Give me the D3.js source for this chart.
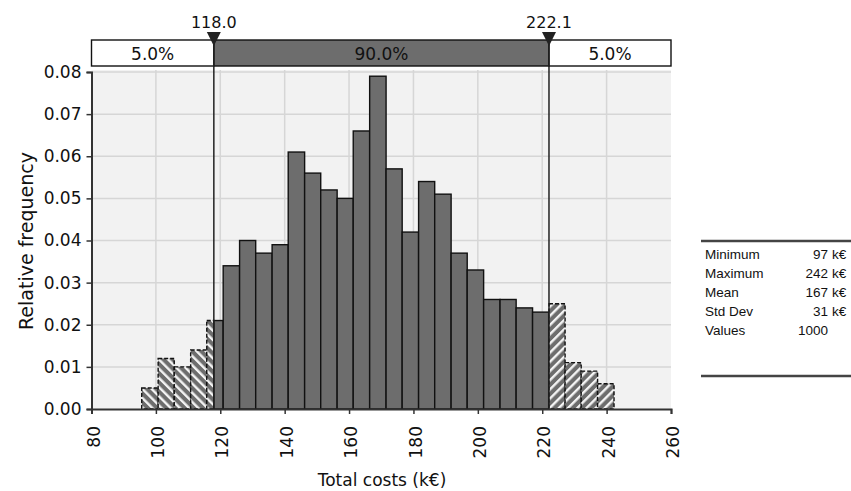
<!DOCTYPE html>
<html>
<head>
<meta charset="utf-8">
<script src="https://cdn.jsdelivr.net/npm/d3@7"></script>
<style>
  body { margin: 0; background: #fff; }
  svg { display: block; }
</style>
</head>
<body>
<svg width="851" height="491"></svg>
<script>
// histogram bins (lower edges + final upper edge)
var binEdges = [95.6, 100.7, 105.7, 110.8, 115.8, 120.9, 126.0, 131.0, 136.1, 141.1,
                146.2, 151.2, 156.3, 161.3, 166.4, 171.5, 176.5, 181.6, 186.6, 191.7,
                196.7, 201.8, 206.9, 211.9, 217.0, 222.0, 227.1, 232.1, 237.2, 242.3];
var relFreq = [0.005, 0.012, 0.010, 0.014, 0.021, 0.034, 0.040, 0.037, 0.039, 0.061,
               0.056, 0.052, 0.050, 0.066, 0.079, 0.057, 0.042, 0.054, 0.051, 0.037,
               0.033, 0.026, 0.026, 0.024, 0.023, 0.025, 0.011, 0.009, 0.006];

var lowerCut = 118.0, upperCut = 222.1;
var bandLabels = ["5.0%", "90.0%", "5.0%"];

var xTicks = [80, 100, 120, 140, 160, 180, 200, 220, 240, 260];
var yTicks = [0, 0.01, 0.02, 0.03, 0.04, 0.05, 0.06, 0.07, 0.08];

var statNames = ["Minimum", "Maximum", "Mean", "Std Dev", "Values"];
var statValues = ["97", "242", "167", "31", "1000"];
var statUnits = ["k€", "k€", "k€", "k€", ""];

var svg = d3.select("svg");
var font = "'DejaVu Sans', Verdana, sans-serif";
var barFill = "#6d6d6d";

var x = d3.scaleLinear().domain([80, 260]).range([91.5, 671]);
var y = d3.scaleLinear().domain([0, 0.08]).range([409, 72]);

// hatch patterns (left tail "\\\", right tail "///")
var defs = svg.append("defs");
[["hatchL", -45], ["hatchR", 45]].forEach(function(p) {
  var pat = defs.append("pattern")
      .attr("id", p[0])
      .attr("patternUnits", "userSpaceOnUse")
      .attr("width", 6.5).attr("height", 6.5)
      .attr("patternTransform", "rotate(" + p[1] + ")");
  pat.append("rect").attr("width", 6.5).attr("height", 6.5).attr("fill", barFill);
  pat.append("rect").attr("x", 0).attr("width", 2.4).attr("height", 6.5).attr("fill", "#f4f4f4");
});

// plot background + grid
svg.append("rect")
    .attr("x", x(80)).attr("y", 70)
    .attr("width", x(260) - x(80)).attr("height", y(0) - 70)
    .attr("fill", "#f2f2f2");

svg.append("g").selectAll("line")
    .data(xTicks.slice(1, -1))
  .enter().append("line")
    .attr("x1", d => x(d)).attr("x2", d => x(d))
    .attr("y1", 70).attr("y2", y(0))
    .attr("stroke", "#d6d6d6").attr("stroke-width", 1.5);

svg.append("g").selectAll("line")
    .data(yTicks.slice(1))
  .enter().append("line")
    .attr("x1", x(80)).attr("x2", x(260))
    .attr("y1", d => y(d)).attr("y2", d => y(d))
    .attr("stroke", "#d6d6d6").attr("stroke-width", 1.5);

// bars, split into tail (hatched) and body (solid) parts
var bins = relFreq.map(function(v, i) { return { x0: binEdges[i], x1: binEdges[i + 1], v: v }; });
var parts = [];
bins.forEach(function(b) {
  var cuts = [b.x0, b.x1, lowerCut, upperCut].filter(c => c >= b.x0 && c <= b.x1).sort(d3.ascending);
  cuts = Array.from(new Set(cuts));
  for (var k = 0; k < cuts.length - 1; k++) {
    var a = cuts[k], c = cuts[k + 1];
    if (c - a < 0.2) continue;
    var mid = (a + c) / 2;
    var kind = mid < lowerCut ? "L" : (mid > upperCut ? "R" : "M");
    parts.push({ x0: a, x1: c, v: b.v, kind: kind });
  }
});

svg.append("g").selectAll("rect")
    .data(parts)
  .enter().append("rect")
    .attr("x", d => x(d.x0))
    .attr("y", d => y(d.v))
    .attr("width", d => x(d.x1) - x(d.x0))
    .attr("height", d => y(0) - y(d.v))
    .attr("fill", d => d.kind == "L" ? "url(#hatchL)" : d.kind == "R" ? "url(#hatchR)" : barFill)
    .attr("stroke", "#111")
    .attr("stroke-width", 1.4)
    .attr("stroke-dasharray", d => d.kind == "M" ? null : "4,2");

// axes
var yAxis = svg.append("g")
    .attr("transform", "translate(" + x(80) + ",0)")
    .call(d3.axisLeft(y).tickValues(yTicks).tickFormat(d3.format(".2f")).tickSizeOuter(0).tickSize(5));
var xAxis = svg.append("g")
    .attr("transform", "translate(0," + y(0) + ")")
    .call(d3.axisBottom(x).tickValues(xTicks).tickFormat(d3.format("d")).tickSizeOuter(0).tickSize(5));

[yAxis, xAxis].forEach(function(g) {
  g.select(".domain").attr("stroke", "#333").attr("stroke-width", 2);
  g.selectAll(".tick line").attr("stroke", "#333").attr("stroke-width", 1.5);
  g.selectAll("text").attr("font-family", font).attr("font-size", 17).attr("fill", "#111");
});
yAxis.selectAll("text").attr("x", -10);
xAxis.selectAll("text")
    .attr("transform", "rotate(-90)")
    .attr("text-anchor", "end")
    .attr("x", -17).attr("y", 0).attr("dy", "0.45em");

// axis titles
svg.append("text")
    .attr("x", 382).attr("y", 486)
    .attr("text-anchor", "middle")
    .attr("font-family", font).attr("font-size", 17).attr("fill", "#111")
    .text("Total costs (k€)");
svg.append("text")
    .attr("transform", "translate(33,241) rotate(-90)")
    .attr("text-anchor", "middle")
    .attr("font-family", font).attr("font-size", 19).attr("fill", "#111")
    .text("Relative frequency");

// percentile band on top
var bandSegs = [[80, lowerCut, "#fff"], [lowerCut, upperCut, barFill], [upperCut, 260, "#fff"]];
var band = svg.append("g");
band.selectAll("rect")
    .data(bandSegs)
  .enter().append("rect")
    .attr("x", d => x(d[0])).attr("y", 40)
    .attr("width", d => x(d[1]) - x(d[0])).attr("height", 26)
    .attr("fill", d => d[2])
    .attr("stroke", "#111").attr("stroke-width", 1.4);
band.selectAll("text")
    .data(bandSegs)
  .enter().append("text")
    .attr("x", d => (x(d[0]) + x(d[1])) / 2).attr("y", 60)
    .attr("text-anchor", "middle")
    .attr("font-family", font).attr("font-size", 17).attr("fill", "#111")
    .text((d, i) => bandLabels[i]);

// cut lines with markers
var cuts = svg.append("g").selectAll("g")
    .data([lowerCut, upperCut])
  .enter().append("g")
    .attr("transform", d => "translate(" + x(d) + ",0)");
cuts.append("line")
    .attr("y1", 40).attr("y2", y(0))
    .attr("stroke", "#222").attr("stroke-width", 1.5);
cuts.append("path")
    .attr("d", "M-7,32L7,32L0,46Z")
    .attr("fill", "#222");
cuts.append("text")
    .attr("y", 28)
    .attr("text-anchor", "middle")
    .attr("font-family", font).attr("font-size", 16).attr("fill", "#111")
    .text(d => d.toFixed(1));

// statistics table
var tbl = svg.append("g").attr("font-family", "'Liberation Sans', Arial, sans-serif").attr("font-size", 13.5).attr("fill", "#111");
tbl.append("line").attr("x1", 701).attr("x2", 851).attr("y1", 241).attr("y2", 241).attr("stroke", "#444").attr("stroke-width", 2.5);
tbl.append("line").attr("x1", 701).attr("x2", 851).attr("y1", 376).attr("y2", 376).attr("stroke", "#444").attr("stroke-width", 2.5);
var rows = tbl.selectAll("g.row")
    .data(statNames)
  .enter().append("g")
    .attr("class", "row")
    .attr("transform", (d, i) => "translate(0," + (259 + i * 19) + ")");
rows.append("text").attr("x", 705).text(d => d);
rows.append("text").attr("x", 828).attr("text-anchor", "end").text((d, i) => statValues[i]);
rows.append("text").attr("x", 832).text((d, i) => statUnits[i]);
</script>
</body>
</html>
